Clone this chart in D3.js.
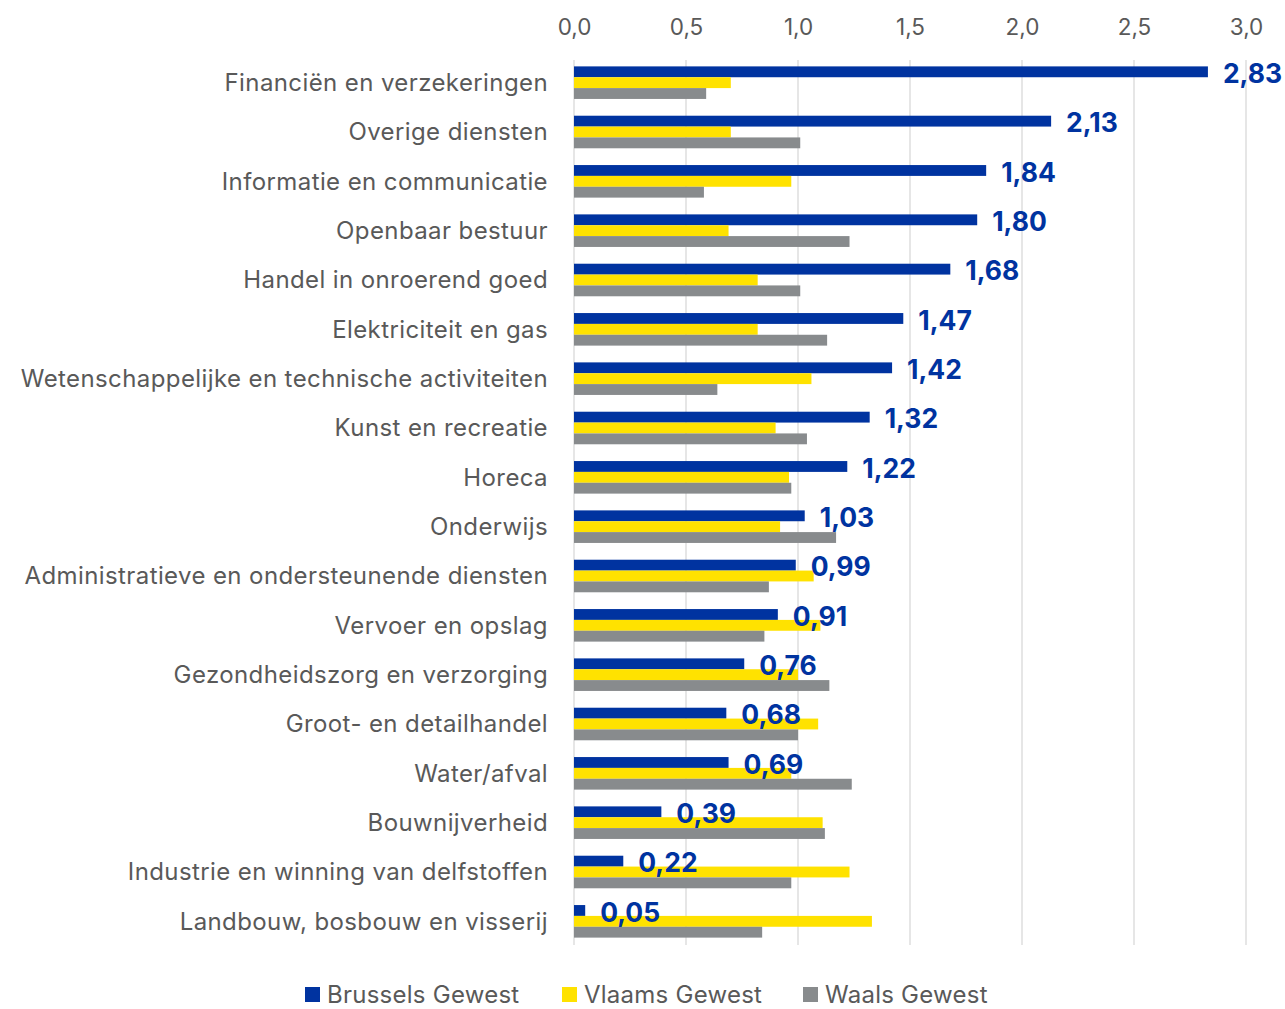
<!DOCTYPE html>
<meta charset="utf-8">
<script src="https://d3js.org/d3.v7.min.js"></script>
<style>
  body { margin: 0; background: #fff; font-family: 'Inter', sans-serif; overflow: hidden; }
  .tick text { fill: #595959; }
</style>
<div id="chart"></div>
<script>

var categories = [
  "Financiën en verzekeringen",
  "Overige diensten",
  "Informatie en communicatie",
  "Openbaar bestuur ",
  "Handel in onroerend goed",
  "Elektriciteit en gas",
  "Wetenschappelijke en technische activiteiten",
  "Kunst en recreatie",
  "Horeca",
  "Onderwijs",
  "Administratieve en ondersteunende diensten",
  "Vervoer en opslag",
  "Gezondheidszorg en verzorging",
  "Groot- en detailhandel",
  "Water/afval",
  "Bouwnijverheid",
  "Industrie en winning van delfstoffen",
  "Landbouw, bosbouw en visserij"
];
var brussels = [2.83, 2.13, 1.84, 1.80, 1.68, 1.47, 1.42, 1.32, 1.22, 1.03, 0.99, 0.91, 0.76, 0.68, 0.69, 0.39, 0.22, 0.05];
var vlaams   = [0.70, 0.70, 0.97, 0.69, 0.82, 0.82, 1.06, 0.90, 0.96, 0.92, 1.07, 1.10, 1.00, 1.09, 0.97, 1.11, 1.23, 1.33];
var waals    = [0.59, 1.01, 0.58, 1.23, 1.01, 1.13, 0.64, 1.04, 0.97, 1.17, 0.87, 0.85, 1.14, 1.00, 1.24, 1.12, 0.97, 0.84];
var seriesNames = ["Brussels Gewest", "Vlaams Gewest", "Waals Gewest"];
var colors = ["#0033a0", "#ffe200", "#888b8d"];
var ticks = [0, 0.5, 1, 1.5, 2, 2.5, 3];

var W = 1285, H = 1009;
var svg = d3.select("#chart").append("svg").attr("width", W).attr("height", H).style("display", "block");

var x = d3.scaleLinear().domain([0, 3]).range([574, 1246]);
var y = d3.scaleBand().domain(categories).range([58, 946]).paddingInner(0.34).paddingOuter(0.17);
var ys = d3.scaleBand().domain(seriesNames).range([0, y.bandwidth()]);

var fmt = function(v, n) { return v.toFixed(n).replace(".", ","); };

// gridlines
svg.append("g").selectAll("line").data(ticks).enter().append("line")
  .attr("x1", d => x(d)).attr("x2", d => x(d))
  .attr("y1", 60).attr("y2", 945)
  .attr("stroke", "#d9d9d9").attr("stroke-width", 1.3);

// top axis labels
var ax = svg.append("g").attr("transform", "translate(0,27)")
  .call(d3.axisTop(x).tickValues(ticks).tickSize(0).tickPadding(0).tickFormat(d => fmt(d, 1)));
ax.select(".domain").remove();
ax.selectAll("text").attr("font-size", 22.5).attr("font-family", "Inter, sans-serif").attr("dy", "0.35em");

// category labels
var ay = svg.append("g").attr("transform", "translate(548,0)")
  .call(d3.axisLeft(y).tickSize(0).tickPadding(0));
ay.select(".domain").remove();
ay.selectAll("text").attr("font-size", 24).attr("font-family", "Inter, sans-serif")
  .attr("letter-spacing", 0.4).attr("dy", "0.35em");

var data = [brussels, vlaams, waals];
var groups = svg.append("g").selectAll("g").data(categories).enter().append("g")
  .attr("transform", d => "translate(0," + y(d) + ")");

groups.each(function(c, i) {
  var g = d3.select(this);
  seriesNames.forEach(function(s, k) {
    g.append("rect")
      .attr("x", x(0))
      .attr("y", ys(s))
      .attr("width", x(data[k][i]) - x(0))
      .attr("height", ys.bandwidth())
      .attr("fill", colors[k]);
  });
  g.append("text")
    .attr("x", x(brussels[i]) + 15)
    .attr("y", ys(seriesNames[0]) + ys.bandwidth() / 2 + 1.5)
    .attr("dy", "0.36em")
    .attr("font-size", 26.5)
    .attr("font-weight", 700)
    .attr("font-family", "Inter, sans-serif")
    .attr("fill", "#0033a0")
    .text(fmt(brussels[i], 2));
});

// legend
var legX = [305, 562, 803];
var leg = svg.append("g").selectAll("g").data(seriesNames).enter().append("g")
  .attr("transform", (d, i) => "translate(" + legX[i] + ",987)");
leg.append("rect").attr("width", 15).attr("height", 15).attr("fill", (d, i) => colors[i]);
leg.append("text").attr("x", 22).attr("y", 7.5).attr("dy", "0.35em")
  .attr("font-size", 24).attr("letter-spacing", 0.25).attr("font-family", "Inter, sans-serif").attr("fill", "#595959")
  .text(d => d);

</script>
